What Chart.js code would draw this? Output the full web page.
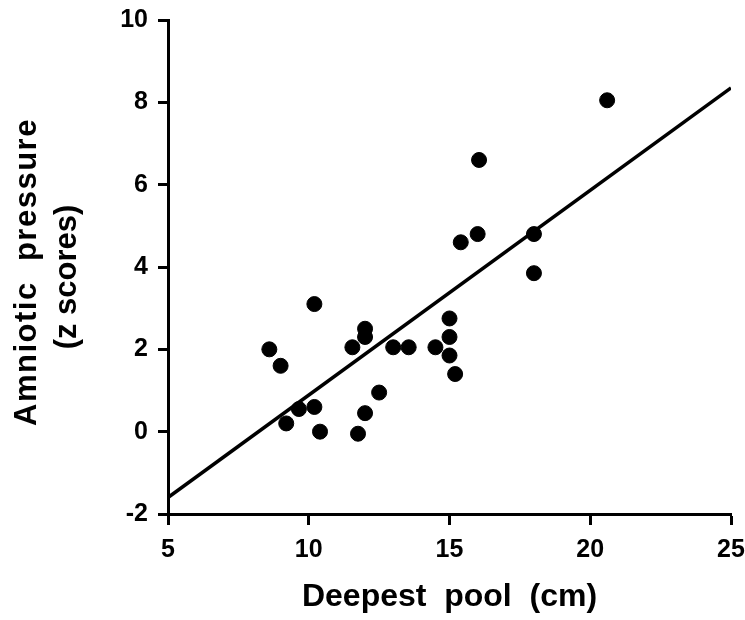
<!DOCTYPE html>
<html>
<head>
<meta charset="utf-8">
<script src="https://cdn.jsdelivr.net/npm/chart.js@4/dist/chart.umd.min.js"></script>
<style>
  body { margin: 0; background: #fff; }
  #wrap { width: 745px; height: 620px; }
</style>
</head>
<body>
<div id="wrap"><canvas id="chart" width="745" height="620"></canvas></div>
<script>
// Deepest pool (cm) vs amniotic pressure (z scores)
var poolDepth = [8.6, 9.0, 9.2, 9.65, 10.2, 10.2, 10.4, 11.55, 11.75, 12.0, 12.0, 12.0, 12.5,
                 13.0, 13.55, 14.5, 15.0, 15.0, 15.0, 15.2, 15.4, 16.0, 16.05, 18.0, 18.0, 20.6];
var pressure = [2.0, 1.6, 0.2, 0.55, 3.1, 0.6, 0.0, 2.05, -0.05, 2.5, 2.3, 0.45, 0.95,
                2.05, 2.05, 2.05, 2.75, 2.3, 1.85, 1.4, 4.6, 4.8, 6.6, 4.8, 3.85, 8.05];

// fitted line, read at the two ends of the x axis
var fitX = [5, 25];
var fitY = [-1.6, 8.35];

var xTicks = [5, 10, 15, 20, 25];
var yTicks = [-2, 0, 2, 4, 6, 8, 10];

var yTitleLines = ['Amniotic  pressure', '(z scores)'];

var points = poolDepth.map(function(x, i) { return { x: x, y: pressure[i] }; });
var fitLine = fitX.map(function(x, i) { return { x: x, y: fitY[i] }; });

var font = 'Liberation Sans, Arial, Helvetica, sans-serif';

// y axis title drawn by hand so the first line can be letter-spaced like the scan
var yTitlePlugin = {
    id: 'yTitle',
    afterDraw: function(chart) {
        var c = chart.ctx;
        var mid = 272;
        c.save();
        c.fillStyle = '#000';
        c.font = 'bold 31px ' + font;
        c.textAlign = 'center';
        c.textBaseline = 'alphabetic';

        c.save();
        c.translate(36, mid);
        c.rotate(-Math.PI / 2);
        c.letterSpacing = '1.5px';
        c.fillText(yTitleLines[0], 0, 0);
        c.restore();

        c.save();
        c.translate(76, mid + 5);
        c.rotate(-Math.PI / 2);
        c.fillText(yTitleLines[1], 0, 0);
        c.restore();

        c.restore();
    }
};

var ctx = document.getElementById('chart').getContext('2d');
var chart = new Chart(ctx, {
    type: 'scatter',
    data: {
        datasets: [{
            label: 'Patients',
            data: points,
            backgroundColor: '#000',
            borderColor: '#000',
            pointRadius: 7.5,
            pointHoverRadius: 7.5
        }, {
            label: 'Fit',
            data: fitLine,
            showLine: true,
            borderColor: '#000',
            borderWidth: 3.5,
            pointRadius: 0,
            fill: false
        }]
    },
    options: {
        responsive: false,
        animation: false,
        layout: {
            padding: { top: 20, right: 14, left: 0, bottom: 0 }
        },
        plugins: {
            legend: { display: false },
            tooltip: { enabled: false }
        },
        scales: {
            x: {
                type: 'linear',
                min: 5,
                max: 25,
                afterBuildTicks: function(axis) {
                    axis.ticks = xTicks.map(function(v) { return { value: v }; });
                },
                afterFit: function(axis) {
                    axis.height = 106;
                    axis.paddingLeft = 0;
                    axis.paddingRight = 0;
                },
                grid: {
                    drawOnChartArea: false,
                    color: '#000',
                    tickLength: 11,
                    tickWidth: 3
                },
                border: { color: '#000', width: 3 },
                ticks: {
                    color: '#000',
                    padding: 10,
                    maxRotation: 0,
                    font: { family: font, size: 25, weight: 'bold' }
                },
                title: {
                    display: true,
                    text: 'Deepest  pool  (cm)',
                    color: '#000',
                    padding: { top: 4 },
                    font: { family: font, size: 32, weight: 'bold' }
                }
            },
            y: {
                type: 'linear',
                min: -2,
                max: 10,
                afterBuildTicks: function(axis) {
                    axis.ticks = yTicks.map(function(v) { return { value: v }; });
                },
                afterFit: function(axis) {
                    axis.width = 168;
                    axis.paddingTop = 0;
                    axis.paddingBottom = 0;
                },
                grid: {
                    drawOnChartArea: false,
                    color: '#000',
                    tickLength: 10,
                    tickWidth: 3
                },
                border: { color: '#000', width: 3 },
                ticks: {
                    color: '#000',
                    padding: 10,
                    font: { family: font, size: 25, weight: 'bold' }
                },
                title: { display: false }
            }
        }
    },
    plugins: [yTitlePlugin]
});
</script>
</body>
</html>
